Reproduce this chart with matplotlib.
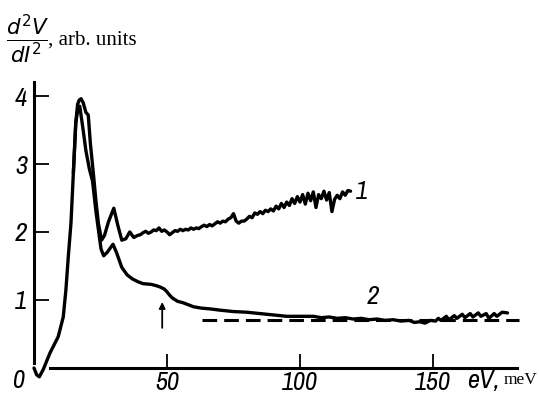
import matplotlib
matplotlib.use("Agg")
import matplotlib.pyplot as plt
from matplotlib import font_manager

# --- data (eV in meV, d2V/dI2 in arb. units) ---
e_rise = [0, 1.0, 2.0, 3.5, 6, 9.1, 11, 12, 12.9, 13.9, 14.8, 15.7]
v_rise = [0, -0.1, -0.13, -0.02, 0.22, 0.46, 0.75, 1.15, 1.64, 2.13, 2.87, 3.6]

e_curve1 = [16.4, 17.0, 17.7, 18.5, 19.5, 20.4, 21.2, 22.3, 23.3, 24.2, 25.4, 26.5, 28, 30,
            31.5, 33, 34.5, 36, 37.5, 39]
v_curve1 = [3.88, 3.94, 3.96, 3.9, 3.76, 3.72, 3.3, 2.87, 2.45, 2.13, 1.88, 1.95, 2.15, 2.35,
            2.1, 1.88, 1.9, 2.0, 1.92, 1.95]
e_noise1 = list(range(40, 120))
v_noise1 = [1.96, 1.99, 2.01, 1.98, 2.00, 2.03, 2.02, 2.06, 2.01, 2.03,
            2.00, 1.96, 1.99, 2.02, 2.01, 2.04, 2.02, 2.04, 2.03, 2.06,
            2.04, 2.06, 2.05, 2.08, 2.10, 2.08, 2.11, 2.09, 2.12, 2.15,
            2.13, 2.16, 2.15, 2.19, 2.21, 2.27, 2.16, 2.13, 2.16, 2.16,
            2.19, 2.23, 2.21, 2.28, 2.26, 2.30, 2.27, 2.32, 2.30, 2.34,
            2.31, 2.38, 2.34, 2.42, 2.36, 2.44, 2.39, 2.49, 2.42, 2.52,
            2.44, 2.55, 2.41, 2.57, 2.46, 2.59, 2.36, 2.55, 2.49, 2.60,
            2.47, 2.58, 2.30, 2.48, 2.54, 2.49, 2.59, 2.54, 2.61, 2.60]

e_curve2 = [16.6, 17.2, 18.3, 19.5, 20.8, 22.0, 23.3, 24.5, 25.2, 26.2, 27.5, 29.7, 31, 33,
            35, 37, 39, 41,
            44, 46, 47.5, 49, 50, 51, 52, 54, 56, 58, 60, 63, 66, 70, 75, 80, 85, 90,
            95, 100, 105, 108, 111, 114, 117, 120, 123, 126, 129, 132, 135, 138, 141,
            143, 145, 147, 149, 151, 152, 153, 155, 156, 158, 159, 161, 162, 164, 165,
            167, 168, 170, 171, 173, 174, 176, 178]
v_curve2 = [3.85, 3.85, 3.55, 3.2, 2.93, 2.75, 2.3, 1.95, 1.75, 1.65, 1.7, 1.82, 1.7, 1.48,
            1.37, 1.31, 1.27, 1.24,
            1.23, 1.21, 1.19, 1.16, 1.12, 1.07, 1.03, 0.98, 0.96, 0.93, 0.90, 0.88, 0.87, 0.85, 0.83, 0.82, 0.80, 0.78,
            0.76, 0.76, 0.76, 0.74, 0.75, 0.73, 0.74, 0.72, 0.73, 0.71, 0.72, 0.70, 0.71, 0.69, 0.70,
            0.67, 0.68, 0.66, 0.70, 0.69, 0.73, 0.70, 0.76, 0.71, 0.77, 0.73, 0.79, 0.74, 0.80, 0.75,
            0.81, 0.76, 0.80, 0.73, 0.80, 0.76, 0.82, 0.81]

dash_e = [63, 182.5]
dash_v = [0.71, 0.71]

x_ticks = [50, 100, 150]
y_ticks = [1, 2, 3, 4]

# narrow italic font for the numbers if there is one
num_font = 'Roboto'
for f in font_manager.fontManager.ttflist:
    if 'Narrow' in f.name or 'Condensed' in f.name:
        num_font = f.name
        break
num_kw = dict(family=[num_font, 'DejaVu Sans'], style='italic', weight='bold', fontsize=19)

fig = plt.figure(figsize=(5.39, 4.03), dpi=100)
ax = fig.add_axes([0, 0, 1, 1])
ax.set_xlim(-12.78, 189.85)
ax.set_ylim(-0.515, 5.412)

lw = 2.4
ax.plot(e_rise + e_curve1 + e_noise1, v_rise + v_curve1 + v_noise1, color='black', lw=lw,
        solid_joinstyle='round', solid_capstyle='round')
ax.plot(e_rise[-2:] + e_curve2, v_rise[-2:] + v_curve2, color='black', lw=lw,
        solid_joinstyle='round', solid_capstyle='round')
ax.plot(dash_e, dash_v, color='black', lw=2.2, dashes=(4.8, 2.3))

# axes drawn like the original figure
for s in ['top', 'right']:
    ax.spines[s].set_visible(False)
ax.spines['left'].set_position(('data', 0))
ax.spines['bottom'].set_position(('data', 0))
ax.spines['left'].set_bounds(0.07, 4.2)
ax.spines['bottom'].set_bounds(6, 181.5)
ax.spines['left'].set_linewidth(2.2)
ax.spines['bottom'].set_linewidth(2.2)

ax.set_yticks(y_ticks)
ax.set_yticklabels([str(t) for t in y_ticks], **num_kw)
ax.set_xticks(x_ticks)
ax.set_xticklabels([str(t) for t in x_ticks], **num_kw)
ax.tick_params(axis='y', direction='in', length=11, width=1.3, pad=5)
ax.tick_params(axis='x', direction='in', length=10, width=1.3, pad=2)

ax.text(-5.8, -0.19, '0', ha='center', va='center', **num_kw)
ax.text(168.8, -0.19, 'eV,', ha='center', va='center', **num_kw)
ax.text(176.6, -0.18, 'meV', ha='left', va='center', family='Liberation Serif', fontsize=12.5)

ax.text(123.2, 2.6, '1', ha='center', va='center', **num_kw)
ax.text(127.3, 1.05, '2', ha='center', va='center', **num_kw)

ax.annotate('', xy=(48.2, 0.97), xytext=(48.2, 0.59),
            arrowprops=dict(arrowstyle='-|>', color='black', lw=1.3,
                            mutation_scale=9, shrinkA=0, shrinkB=0))

# y label: d2V/dI2, arb. units
ax.text(-2.6, 4.82, r'$\frac{d^2V}{dI^2}$', ha='center', va='center', fontsize=22)
ax.text(5.4, 4.75, ', arb. units', ha='left', va='baseline', family='Liberation Serif',
        fontsize=15)

fig.savefig('out.png', dpi=100)
